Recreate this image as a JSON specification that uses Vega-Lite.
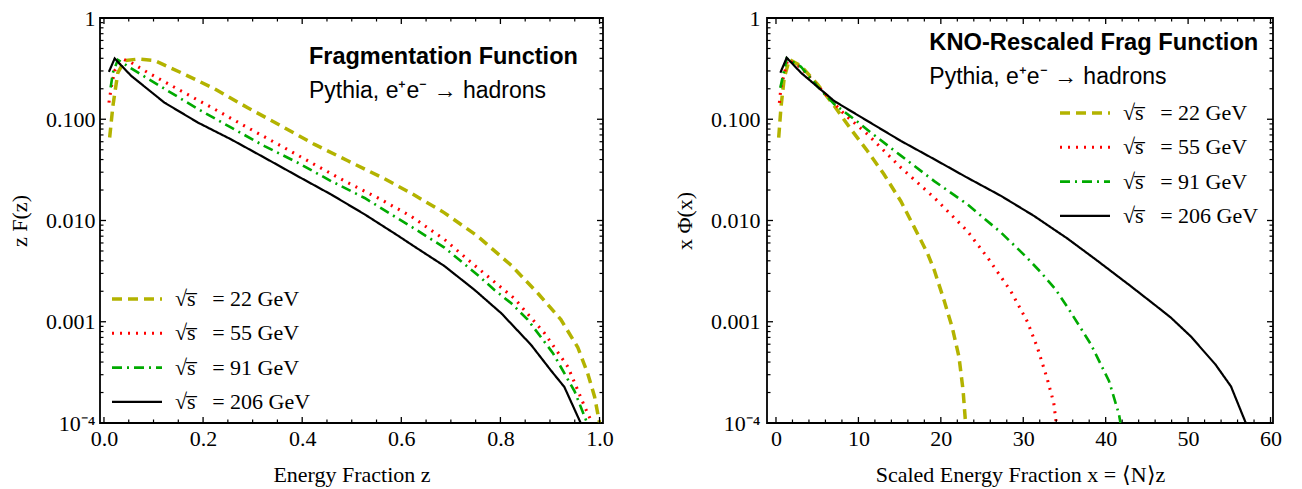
{
 "$schema": "https://vega.github.io/schema/vega-lite/v6.json",
 "background": "white",
 "padding": {"left": 7, "top": 6, "right": 5, "bottom": 5},
 "datasets": {
  "xtL": [{"t":0,"k":"major"},{"t":0.2,"k":"major"},{"t":0.4,"k":"major"},{"t":0.6,"k":"major"},{"t":0.8,"k":"major"},{"t":1,"k":"major"},{"t":0.05,"k":"minor"},{"t":0.1,"k":"minor"},{"t":0.15,"k":"minor"},{"t":0.25,"k":"minor"},{"t":0.3,"k":"minor"},{"t":0.35,"k":"minor"},{"t":0.45,"k":"minor"},{"t":0.5,"k":"minor"},{"t":0.55,"k":"minor"},{"t":0.65,"k":"minor"},{"t":0.7,"k":"minor"},{"t":0.75,"k":"minor"},{"t":0.85,"k":"minor"},{"t":0.9,"k":"minor"},{"t":0.95,"k":"minor"}],
  "xtR": [{"t":0,"k":"major"},{"t":10,"k":"major"},{"t":20,"k":"major"},{"t":30,"k":"major"},{"t":40,"k":"major"},{"t":50,"k":"major"},{"t":60,"k":"major"},{"t":2,"k":"minor"},{"t":4,"k":"minor"},{"t":6,"k":"minor"},{"t":8,"k":"minor"},{"t":12,"k":"minor"},{"t":14,"k":"minor"},{"t":16,"k":"minor"},{"t":18,"k":"minor"},{"t":22,"k":"minor"},{"t":24,"k":"minor"},{"t":26,"k":"minor"},{"t":28,"k":"minor"},{"t":32,"k":"minor"},{"t":34,"k":"minor"},{"t":36,"k":"minor"},{"t":38,"k":"minor"},{"t":42,"k":"minor"},{"t":44,"k":"minor"},{"t":46,"k":"minor"},{"t":48,"k":"minor"},{"t":52,"k":"minor"},{"t":54,"k":"minor"},{"t":56,"k":"minor"},{"t":58,"k":"minor"}],
  "yt": [{"t":0.0001,"k":"major"},{"t":0.001,"k":"major"},{"t":0.01,"k":"major"},{"t":0.1,"k":"major"},{"t":1,"k":"major"},{"t":0.0002,"k":"minor"},{"t":0.0003,"k":"minor"},{"t":0.0004,"k":"minor"},{"t":0.0005,"k":"minor"},{"t":0.0006,"k":"minor"},{"t":0.0007,"k":"minor"},{"t":0.0008,"k":"minor"},{"t":0.0009,"k":"minor"},{"t":0.002,"k":"minor"},{"t":0.003,"k":"minor"},{"t":0.004,"k":"minor"},{"t":0.005,"k":"minor"},{"t":0.006,"k":"minor"},{"t":0.007,"k":"minor"},{"t":0.008,"k":"minor"},{"t":0.009,"k":"minor"},{"t":0.02,"k":"minor"},{"t":0.03,"k":"minor"},{"t":0.04,"k":"minor"},{"t":0.05,"k":"minor"},{"t":0.06,"k":"minor"},{"t":0.07,"k":"minor"},{"t":0.08,"k":"minor"},{"t":0.09,"k":"minor"},{"t":0.2,"k":"minor"},{"t":0.3,"k":"minor"},{"t":0.4,"k":"minor"},{"t":0.5,"k":"minor"},{"t":0.6,"k":"minor"},{"t":0.7,"k":"minor"},{"t":0.8,"k":"minor"},{"t":0.9,"k":"minor"}],
  "left": [
   {"x":0.0115,"v":0.066,"e":"√s̅ = 22 GeV"},{"x":0.018,"v":0.135,"e":"√s̅ = 22 GeV"},{"x":0.028,"v":0.288,"e":"√s̅ = 22 GeV"},{"x":0.042,"v":0.38,"e":"√s̅ = 22 GeV"},{"x":0.069,"v":0.393,"e":"√s̅ = 22 GeV"},{"x":0.102,"v":0.38,"e":"√s̅ = 22 GeV"},{"x":0.156,"v":0.288,"e":"√s̅ = 22 GeV"},{"x":0.223,"v":0.2,"e":"√s̅ = 22 GeV"},{"x":0.29,"v":0.13,"e":"√s̅ = 22 GeV"},{"x":0.358,"v":0.0857,"e":"√s̅ = 22 GeV"},{"x":0.425,"v":0.0564,"e":"√s̅ = 22 GeV"},{"x":0.492,"v":0.0389,"e":"√s̅ = 22 GeV"},{"x":0.563,"v":0.0263,"e":"√s̅ = 22 GeV"},{"x":0.62,"v":0.0186,"e":"√s̅ = 22 GeV"},{"x":0.687,"v":0.0119,"e":"√s̅ = 22 GeV"},{"x":0.754,"v":0.007,"e":"√s̅ = 22 GeV"},{"x":0.822,"v":0.0036,"e":"√s̅ = 22 GeV"},{"x":0.876,"v":0.0019,"e":"√s̅ = 22 GeV"},{"x":0.922,"v":0.00105,"e":"√s̅ = 22 GeV"},{"x":0.956,"v":0.00056,"e":"√s̅ = 22 GeV"},{"x":0.976,"v":0.00031,"e":"√s̅ = 22 GeV"},{"x":0.99,"v":0.000182,"e":"√s̅ = 22 GeV"},{"x":1.0,"v":0.0001,"e":"√s̅ = 22 GeV"},
   {"x":0.01,"v":0.146,"e":"√s̅ = 55 GeV"},{"x":0.0147,"v":0.206,"e":"√s̅ = 55 GeV"},{"x":0.0216,"v":0.302,"e":"√s̅ = 55 GeV"},{"x":0.038,"v":0.393,"e":"√s̅ = 55 GeV"},{"x":0.055,"v":0.363,"e":"√s̅ = 55 GeV"},{"x":0.089,"v":0.288,"e":"√s̅ = 55 GeV"},{"x":0.156,"v":0.19,"e":"√s̅ = 55 GeV"},{"x":0.223,"v":0.126,"e":"√s̅ = 55 GeV"},{"x":0.29,"v":0.0826,"e":"√s̅ = 55 GeV"},{"x":0.358,"v":0.0543,"e":"√s̅ = 55 GeV"},{"x":0.425,"v":0.0357,"e":"√s̅ = 55 GeV"},{"x":0.492,"v":0.0236,"e":"√s̅ = 55 GeV"},{"x":0.553,"v":0.0167,"e":"√s̅ = 55 GeV"},{"x":0.62,"v":0.011,"e":"√s̅ = 55 GeV"},{"x":0.687,"v":0.0065,"e":"√s̅ = 55 GeV"},{"x":0.748,"v":0.0036,"e":"√s̅ = 55 GeV"},{"x":0.828,"v":0.0017,"e":"√s̅ = 55 GeV"},{"x":0.889,"v":0.00077,"e":"√s̅ = 55 GeV"},{"x":0.936,"v":0.00036,"e":"√s̅ = 55 GeV"},{"x":0.97,"v":0.000145,"e":"√s̅ = 55 GeV"},{"x":0.985,"v":0.0001,"e":"√s̅ = 55 GeV"},
   {"x":0.0135,"v":0.206,"e":"√s̅ = 91 GeV"},{"x":0.018,"v":0.288,"e":"√s̅ = 91 GeV"},{"x":0.028,"v":0.386,"e":"√s̅ = 91 GeV"},{"x":0.069,"v":0.288,"e":"√s̅ = 91 GeV"},{"x":0.122,"v":0.2,"e":"√s̅ = 91 GeV"},{"x":0.19,"v":0.126,"e":"√s̅ = 91 GeV"},{"x":0.257,"v":0.0826,"e":"√s̅ = 91 GeV"},{"x":0.324,"v":0.0543,"e":"√s̅ = 91 GeV"},{"x":0.391,"v":0.0372,"e":"√s̅ = 91 GeV"},{"x":0.459,"v":0.0244,"e":"√s̅ = 91 GeV"},{"x":0.526,"v":0.0167,"e":"√s̅ = 91 GeV"},{"x":0.586,"v":0.011,"e":"√s̅ = 91 GeV"},{"x":0.62,"v":0.0087,"e":"√s̅ = 91 GeV"},{"x":0.687,"v":0.0054,"e":"√s̅ = 91 GeV"},{"x":0.754,"v":0.0029,"e":"√s̅ = 91 GeV"},{"x":0.788,"v":0.00206,"e":"√s̅ = 91 GeV"},{"x":0.822,"v":0.00152,"e":"√s̅ = 91 GeV"},{"x":0.855,"v":0.00105,"e":"√s̅ = 91 GeV"},{"x":0.906,"v":0.00049,"e":"√s̅ = 91 GeV"},{"x":0.95,"v":0.000204,"e":"√s̅ = 91 GeV"},{"x":0.966,"v":0.000129,"e":"√s̅ = 91 GeV"},{"x":0.975,"v":0.0001,"e":"√s̅ = 91 GeV"},
   {"x":0.01,"v":0.294,"e":"√s̅ = 206 GeV"},{"x":0.0216,"v":0.398,"e":"√s̅ = 206 GeV"},{"x":0.055,"v":0.268,"e":"√s̅ = 206 GeV"},{"x":0.122,"v":0.146,"e":"√s̅ = 206 GeV"},{"x":0.19,"v":0.0925,"e":"√s̅ = 206 GeV"},{"x":0.257,"v":0.0631,"e":"√s̅ = 206 GeV"},{"x":0.324,"v":0.0417,"e":"√s̅ = 206 GeV"},{"x":0.391,"v":0.0274,"e":"√s̅ = 206 GeV"},{"x":0.459,"v":0.018,"e":"√s̅ = 206 GeV"},{"x":0.526,"v":0.0115,"e":"√s̅ = 206 GeV"},{"x":0.593,"v":0.0071,"e":"√s̅ = 206 GeV"},{"x":0.62,"v":0.0058,"e":"√s̅ = 206 GeV"},{"x":0.687,"v":0.00355,"e":"√s̅ = 206 GeV"},{"x":0.748,"v":0.00206,"e":"√s̅ = 206 GeV"},{"x":0.802,"v":0.00121,"e":"√s̅ = 206 GeV"},{"x":0.862,"v":0.00059,"e":"√s̅ = 206 GeV"},{"x":0.902,"v":0.00033,"e":"√s̅ = 206 GeV"},{"x":0.929,"v":0.000227,"e":"√s̅ = 206 GeV"},{"x":0.962,"v":0.0001,"e":"√s̅ = 206 GeV"}
  ],
  "right": [
   {"x":0.33,"v":0.066,"e":"√s̅ = 22 GeV"},{"x":0.6,"v":0.13,"e":"√s̅ = 22 GeV"},{"x":1.0,"v":0.257,"e":"√s̅ = 22 GeV"},{"x":1.62,"v":0.389,"e":"√s̅ = 22 GeV"},{"x":3.03,"v":0.336,"e":"√s̅ = 22 GeV"},{"x":5.05,"v":0.221,"e":"√s̅ = 22 GeV"},{"x":7.08,"v":0.135,"e":"√s̅ = 22 GeV"},{"x":9.1,"v":0.0794,"e":"√s̅ = 22 GeV"},{"x":11.1,"v":0.0486,"e":"√s̅ = 22 GeV"},{"x":13.1,"v":0.0286,"e":"√s̅ = 22 GeV"},{"x":15.15,"v":0.0155,"e":"√s̅ = 22 GeV"},{"x":16.8,"v":0.0085,"e":"√s̅ = 22 GeV"},{"x":18.4,"v":0.0047,"e":"√s̅ = 22 GeV"},{"x":19.2,"v":0.00324,"e":"√s̅ = 22 GeV"},{"x":20.4,"v":0.00162,"e":"√s̅ = 22 GeV"},{"x":21.4,"v":0.00087,"e":"√s̅ = 22 GeV"},{"x":22.2,"v":0.00045,"e":"√s̅ = 22 GeV"},{"x":22.7,"v":0.00021,"e":"√s̅ = 22 GeV"},{"x":23.0,"v":0.0001,"e":"√s̅ = 22 GeV"},
   {"x":0.41,"v":0.145,"e":"√s̅ = 55 GeV"},{"x":0.6,"v":0.204,"e":"√s̅ = 55 GeV"},{"x":1.42,"v":0.389,"e":"√s̅ = 55 GeV"},{"x":3.03,"v":0.324,"e":"√s̅ = 55 GeV"},{"x":5.05,"v":0.214,"e":"√s̅ = 55 GeV"},{"x":8.3,"v":0.112,"e":"√s̅ = 55 GeV"},{"x":11.1,"v":0.0711,"e":"√s̅ = 55 GeV"},{"x":15.15,"v":0.0333,"e":"√s̅ = 55 GeV"},{"x":19.2,"v":0.0168,"e":"√s̅ = 55 GeV"},{"x":23.2,"v":0.0079,"e":"√s̅ = 55 GeV"},{"x":25.7,"v":0.00427,"e":"√s̅ = 55 GeV"},{"x":28.5,"v":0.002,"e":"√s̅ = 55 GeV"},{"x":30.5,"v":0.001,"e":"√s̅ = 55 GeV"},{"x":31.7,"v":0.00056,"e":"√s̅ = 55 GeV"},{"x":32.9,"v":0.000275,"e":"√s̅ = 55 GeV"},{"x":33.7,"v":0.000158,"e":"√s̅ = 55 GeV"},{"x":34.0,"v":0.0001,"e":"√s̅ = 55 GeV"},
   {"x":0.53,"v":0.204,"e":"√s̅ = 91 GeV"},{"x":1.3,"v":0.398,"e":"√s̅ = 91 GeV"},{"x":3.03,"v":0.33,"e":"√s̅ = 91 GeV"},{"x":5.05,"v":0.21,"e":"√s̅ = 91 GeV"},{"x":7.08,"v":0.141,"e":"√s̅ = 91 GeV"},{"x":9.5,"v":0.1,"e":"√s̅ = 91 GeV"},{"x":11.5,"v":0.074,"e":"√s̅ = 91 GeV"},{"x":15.15,"v":0.0437,"e":"√s̅ = 91 GeV"},{"x":19.2,"v":0.0245,"e":"√s̅ = 91 GeV"},{"x":23.2,"v":0.0145,"e":"√s̅ = 91 GeV"},{"x":27.3,"v":0.0076,"e":"√s̅ = 91 GeV"},{"x":30.2,"v":0.0045,"e":"√s̅ = 91 GeV"},{"x":32.1,"v":0.0031,"e":"√s̅ = 91 GeV"},{"x":33.9,"v":0.0021,"e":"√s̅ = 91 GeV"},{"x":35.4,"v":0.00138,"e":"√s̅ = 91 GeV"},{"x":38.2,"v":0.0006,"e":"√s̅ = 91 GeV"},{"x":40.4,"v":0.00026,"e":"√s̅ = 91 GeV"},{"x":41.6,"v":0.000123,"e":"√s̅ = 91 GeV"},{"x":41.8,"v":0.0001,"e":"√s̅ = 91 GeV"},
   {"x":0.53,"v":0.288,"e":"√s̅ = 206 GeV"},{"x":1.3,"v":0.405,"e":"√s̅ = 206 GeV"},{"x":3.03,"v":0.288,"e":"√s̅ = 206 GeV"},{"x":7.08,"v":0.151,"e":"√s̅ = 206 GeV"},{"x":11.1,"v":0.0962,"e":"√s̅ = 206 GeV"},{"x":15.15,"v":0.0611,"e":"√s̅ = 206 GeV"},{"x":19.2,"v":0.0403,"e":"√s̅ = 206 GeV"},{"x":23.2,"v":0.0265,"e":"√s̅ = 206 GeV"},{"x":27.3,"v":0.0175,"e":"√s̅ = 206 GeV"},{"x":31.3,"v":0.0111,"e":"√s̅ = 206 GeV"},{"x":35.4,"v":0.0066,"e":"√s̅ = 206 GeV"},{"x":39.0,"v":0.004,"e":"√s̅ = 206 GeV"},{"x":43.0,"v":0.00226,"e":"√s̅ = 206 GeV"},{"x":45.9,"v":0.00148,"e":"√s̅ = 206 GeV"},{"x":47.9,"v":0.0011,"e":"√s̅ = 206 GeV"},{"x":50.3,"v":0.00072,"e":"√s̅ = 206 GeV"},{"x":53.3,"v":0.00038,"e":"√s̅ = 206 GeV"},{"x":55.2,"v":0.00023,"e":"√s̅ = 206 GeV"},{"x":57.0,"v":0.0001,"e":"√s̅ = 206 GeV"}
  ]
 },
 "spacing": 164,
 "bounds": "flush",
 "hconcat": [
  {
   "width": 503, "height": 405,
   "resolve": {"axis": {"x": "independent", "y": "independent"}},
   "layer": [
    {
     "data": {"name": "left"},
     "mark": {"type": "line", "clip": true},
     "encoding": {
      "x": {"field": "x", "type": "quantitative", "scale": {"domain": [-0.008, 1.007], "nice": false, "zero": false},
            "axis": {"orient": "bottom", "values": [0, 0.2, 0.4, 0.6, 0.8, 1], "format": ".1f", "title": "Energy Fraction z", "labelPadding": 5, "titlePadding": 15}},
      "y": {"field": "v", "type": "quantitative", "scale": {"type": "log", "domain": [0.0001, 1], "nice": false},
            "axis": {"orient": "left", "values": [0.0001, 0.001, 0.01, 0.1, 1], "labelExpr": "datum.value > 0.5 ? '1' : datum.value < 0.0005 ? '10⁻⁴' : format(datum.value, '.3f')", "title": "z F(z)", "labelPadding": 5, "titlePadding": 14}},
      "color": {"field": "e", "type": "nominal", "title": null, "scale": {"domain": ["√s̅ = 22 GeV", "√s̅ = 55 GeV", "√s̅ = 91 GeV", "√s̅ = 206 GeV"], "range": ["#b3b300", "#ff0000", "#00aa00", "#000000"]}, "legend": {"orient": "none", "legendX": 10, "legendY": 268, "labelExpr": "replace(datum.label, ' = ', ' \u2002= ')"}},
      "strokeDash": {"field": "e", "type": "nominal", "title": null, "scale": {"domain": ["√s̅ = 22 GeV", "√s̅ = 55 GeV", "√s̅ = 91 GeV", "√s̅ = 206 GeV"], "range": [[10, 6], [2, 6], [10, 5, 2, 5], [1, 0]]}, "legend": {"orient": "none", "legendX": 10, "legendY": 268, "labelExpr": "replace(datum.label, ' = ', ' \u2002= ')"}},
      "strokeWidth": {"field": "e", "type": "nominal", "title": null, "scale": {"domain": ["√s̅ = 22 GeV", "√s̅ = 55 GeV", "√s̅ = 91 GeV", "√s̅ = 206 GeV"], "range": [3.5, 2.2, 3.5, 2.8]}, "legend": {"orient": "none", "legendX": 10, "legendY": 268, "labelExpr": "replace(datum.label, ' = ', ' \u2002= ')"}}
     }
    },
    {"data": {"name": "xtL"}, "transform": [{"filter": "datum.k == 'major'"}], "mark": {"type": "tick", "orient": "vertical", "size": 6, "thickness": 1.3, "color": "black", "opacity": 1, "yOffset": -3},
     "encoding": {"x": {"field": "t", "type": "quantitative", "axis": null}, "y": {"datum": 0.0001, "type": "quantitative", "axis": null}}},
    {"data": {"name": "xtL"}, "transform": [{"filter": "datum.k == 'major'"}], "mark": {"type": "tick", "orient": "vertical", "size": 6, "thickness": 1.3, "color": "black", "opacity": 1, "yOffset": 3},
     "encoding": {"x": {"field": "t", "type": "quantitative", "axis": null}, "y": {"datum": 1, "type": "quantitative", "axis": null}}},
    {"data": {"name": "xtL"}, "transform": [{"filter": "datum.k == 'minor'"}], "mark": {"type": "tick", "orient": "vertical", "size": 3.5, "thickness": 1.2, "color": "black", "opacity": 1, "yOffset": -1.75},
     "encoding": {"x": {"field": "t", "type": "quantitative", "axis": null}, "y": {"datum": 0.0001, "type": "quantitative", "axis": null}}},
    {"data": {"name": "xtL"}, "transform": [{"filter": "datum.k == 'minor'"}], "mark": {"type": "tick", "orient": "vertical", "size": 3.5, "thickness": 1.2, "color": "black", "opacity": 1, "yOffset": 1.75},
     "encoding": {"x": {"field": "t", "type": "quantitative", "axis": null}, "y": {"datum": 1, "type": "quantitative", "axis": null}}},
    {"data": {"name": "yt"}, "transform": [{"filter": "datum.k == 'major'"}], "mark": {"type": "tick", "orient": "horizontal", "size": 6, "thickness": 1.3, "color": "black", "opacity": 1, "xOffset": 3},
     "encoding": {"y": {"field": "t", "type": "quantitative", "axis": null}, "x": {"datum": -0.008, "type": "quantitative", "axis": null}}},
    {"data": {"name": "yt"}, "transform": [{"filter": "datum.k == 'major'"}], "mark": {"type": "tick", "orient": "horizontal", "size": 6, "thickness": 1.3, "color": "black", "opacity": 1, "xOffset": -3},
     "encoding": {"y": {"field": "t", "type": "quantitative", "axis": null}, "x": {"datum": 1.007, "type": "quantitative", "axis": null}}},
    {"data": {"name": "yt"}, "transform": [{"filter": "datum.k == 'minor'"}], "mark": {"type": "tick", "orient": "horizontal", "size": 3.5, "thickness": 1.2, "color": "black", "opacity": 1, "xOffset": 1.75},
     "encoding": {"y": {"field": "t", "type": "quantitative", "axis": null}, "x": {"datum": -0.008, "type": "quantitative", "axis": null}}},
    {"data": {"name": "yt"}, "transform": [{"filter": "datum.k == 'minor'"}], "mark": {"type": "tick", "orient": "horizontal", "size": 3.5, "thickness": 1.2, "color": "black", "opacity": 1, "xOffset": -1.75},
     "encoding": {"y": {"field": "t", "type": "quantitative", "axis": null}, "x": {"datum": 1.007, "type": "quantitative", "axis": null}}},
    {
     "data": {"values": [{"t": "Fragmentation Function"}]},
     "mark": {"type": "text", "align": "left", "baseline": "alphabetic", "font": "Liberation Sans", "fontSize": 23.5, "fontWeight": "bold", "color": "black"},
     "encoding": {"text": {"field": "t"}, "x": {"datum": 0.4136, "type": "quantitative", "axis": null}, "y": {"datum": 0.355, "type": "quantitative", "axis": null}}
    },
    {
     "data": {"values": [{"t": "Pythia, e⁺e⁻ → hadrons"}]},
     "mark": {"type": "text", "align": "left", "baseline": "alphabetic", "font": "Liberation Sans", "fontSize": 23, "color": "black"},
     "encoding": {"text": {"field": "t"}, "x": {"datum": 0.4136, "type": "quantitative", "axis": null}, "y": {"datum": 0.161, "type": "quantitative", "axis": null}}
    }
   ]
  },
  {
   "width": 506, "height": 405,
   "resolve": {"axis": {"x": "independent", "y": "independent"}},
   "layer": [
    {
     "data": {"name": "right"},
     "mark": {"type": "line", "clip": true},
     "encoding": {
      "x": {"field": "x", "type": "quantitative", "scale": {"domain": [-1.09, 60.3], "nice": false, "zero": false},
            "axis": {"orient": "bottom", "values": [0, 10, 20, 30, 40, 50, 60], "format": "d", "title": "Scaled Energy Fraction x = ⟨N⟩z", "labelPadding": 5, "titlePadding": 15}},
      "y": {"field": "v", "type": "quantitative", "scale": {"type": "log", "domain": [0.0001, 1], "nice": false},
            "axis": {"orient": "left", "values": [0.0001, 0.001, 0.01, 0.1, 1], "labelExpr": "datum.value > 0.5 ? '1' : datum.value < 0.0005 ? '10⁻⁴' : format(datum.value, '.3f')", "title": "x Φ(x)", "labelPadding": 7, "titlePadding": 14}},
      "color": {"field": "e", "type": "nominal", "title": null, "scale": {"domain": ["√s̅ = 22 GeV", "√s̅ = 55 GeV", "√s̅ = 91 GeV", "√s̅ = 206 GeV"], "range": ["#b3b300", "#ff0000", "#00aa00", "#000000"]}, "legend": {"orient": "none", "legendX": 291, "legendY": 82, "labelExpr": "replace(datum.label, ' = ', ' \u2002= ')"}},
      "strokeDash": {"field": "e", "type": "nominal", "title": null, "scale": {"domain": ["√s̅ = 22 GeV", "√s̅ = 55 GeV", "√s̅ = 91 GeV", "√s̅ = 206 GeV"], "range": [[10, 6], [2, 6], [10, 5, 2, 5], [1, 0]]}, "legend": {"orient": "none", "legendX": 291, "legendY": 82, "labelExpr": "replace(datum.label, ' = ', ' \u2002= ')"}},
      "strokeWidth": {"field": "e", "type": "nominal", "title": null, "scale": {"domain": ["√s̅ = 22 GeV", "√s̅ = 55 GeV", "√s̅ = 91 GeV", "√s̅ = 206 GeV"], "range": [3.5, 2.2, 3.5, 2.8]}, "legend": {"orient": "none", "legendX": 291, "legendY": 82, "labelExpr": "replace(datum.label, ' = ', ' \u2002= ')"}}
     }
    },
    {"data": {"name": "xtR"}, "transform": [{"filter": "datum.k == 'major'"}], "mark": {"type": "tick", "orient": "vertical", "size": 6, "thickness": 1.3, "color": "black", "opacity": 1, "yOffset": -3},
     "encoding": {"x": {"field": "t", "type": "quantitative", "axis": null}, "y": {"datum": 0.0001, "type": "quantitative", "axis": null}}},
    {"data": {"name": "xtR"}, "transform": [{"filter": "datum.k == 'major'"}], "mark": {"type": "tick", "orient": "vertical", "size": 6, "thickness": 1.3, "color": "black", "opacity": 1, "yOffset": 3},
     "encoding": {"x": {"field": "t", "type": "quantitative", "axis": null}, "y": {"datum": 1, "type": "quantitative", "axis": null}}},
    {"data": {"name": "xtR"}, "transform": [{"filter": "datum.k == 'minor'"}], "mark": {"type": "tick", "orient": "vertical", "size": 3.5, "thickness": 1.2, "color": "black", "opacity": 1, "yOffset": -1.75},
     "encoding": {"x": {"field": "t", "type": "quantitative", "axis": null}, "y": {"datum": 0.0001, "type": "quantitative", "axis": null}}},
    {"data": {"name": "xtR"}, "transform": [{"filter": "datum.k == 'minor'"}], "mark": {"type": "tick", "orient": "vertical", "size": 3.5, "thickness": 1.2, "color": "black", "opacity": 1, "yOffset": 1.75},
     "encoding": {"x": {"field": "t", "type": "quantitative", "axis": null}, "y": {"datum": 1, "type": "quantitative", "axis": null}}},
    {"data": {"name": "yt"}, "transform": [{"filter": "datum.k == 'major'"}], "mark": {"type": "tick", "orient": "horizontal", "size": 6, "thickness": 1.3, "color": "black", "opacity": 1, "xOffset": 3},
     "encoding": {"y": {"field": "t", "type": "quantitative", "axis": null}, "x": {"datum": -1.09, "type": "quantitative", "axis": null}}},
    {"data": {"name": "yt"}, "transform": [{"filter": "datum.k == 'major'"}], "mark": {"type": "tick", "orient": "horizontal", "size": 6, "thickness": 1.3, "color": "black", "opacity": 1, "xOffset": -3},
     "encoding": {"y": {"field": "t", "type": "quantitative", "axis": null}, "x": {"datum": 60.3, "type": "quantitative", "axis": null}}},
    {"data": {"name": "yt"}, "transform": [{"filter": "datum.k == 'minor'"}], "mark": {"type": "tick", "orient": "horizontal", "size": 3.5, "thickness": 1.2, "color": "black", "opacity": 1, "xOffset": 1.75},
     "encoding": {"y": {"field": "t", "type": "quantitative", "axis": null}, "x": {"datum": -1.09, "type": "quantitative", "axis": null}}},
    {"data": {"name": "yt"}, "transform": [{"filter": "datum.k == 'minor'"}], "mark": {"type": "tick", "orient": "horizontal", "size": 3.5, "thickness": 1.2, "color": "black", "opacity": 1, "xOffset": -1.75},
     "encoding": {"y": {"field": "t", "type": "quantitative", "axis": null}, "x": {"datum": 60.3, "type": "quantitative", "axis": null}}},
    {
     "data": {"values": [{"t": "KNO-Rescaled Frag Function"}]},
     "mark": {"type": "text", "align": "left", "baseline": "alphabetic", "font": "Liberation Sans", "fontSize": 23.7, "fontWeight": "bold", "color": "black"},
     "encoding": {"text": {"field": "t"}, "x": {"datum": 18.6, "type": "quantitative", "axis": null}, "y": {"datum": 0.48, "type": "quantitative", "axis": null}}
    },
    {
     "data": {"values": [{"t": "Pythia, e⁺e⁻ → hadrons"}]},
     "mark": {"type": "text", "align": "left", "baseline": "alphabetic", "font": "Liberation Sans", "fontSize": 23, "color": "black"},
     "encoding": {"text": {"field": "t"}, "x": {"datum": 18.6, "type": "quantitative", "axis": null}, "y": {"datum": 0.222, "type": "quantitative", "axis": null}}
    }
   ]
  }
 ],
 "resolve": {
  "scale": {"color": "independent", "strokeDash": "independent", "strokeWidth": "independent"},
  "legend": {"color": "independent", "strokeDash": "independent", "strokeWidth": "independent"}
 },
 "config": {
  "view": {"stroke": "black", "strokeWidth": 1.8},
  "axis": {"domain": false, "grid": false, "ticks": false, "tickSize": 0, "labelFont": "Liberation Serif", "labelFontSize": 22, "labelColor": "black", "titleFont": "Liberation Serif", "titleFontSize": 22, "titleFontWeight": "normal", "titleColor": "black", "labelFlush": false, "labelOverlap": false, "labelBound": false},
  "legend": {"symbolType": "stroke", "symbolSize": 2500, "clipHeight": 26, "labelFont": "Liberation Serif", "labelFontSize": 22, "labelColor": "black", "labelLimit": 0, "rowPadding": 8.3, "labelOffset": 11, "padding": 0}
 }
}
